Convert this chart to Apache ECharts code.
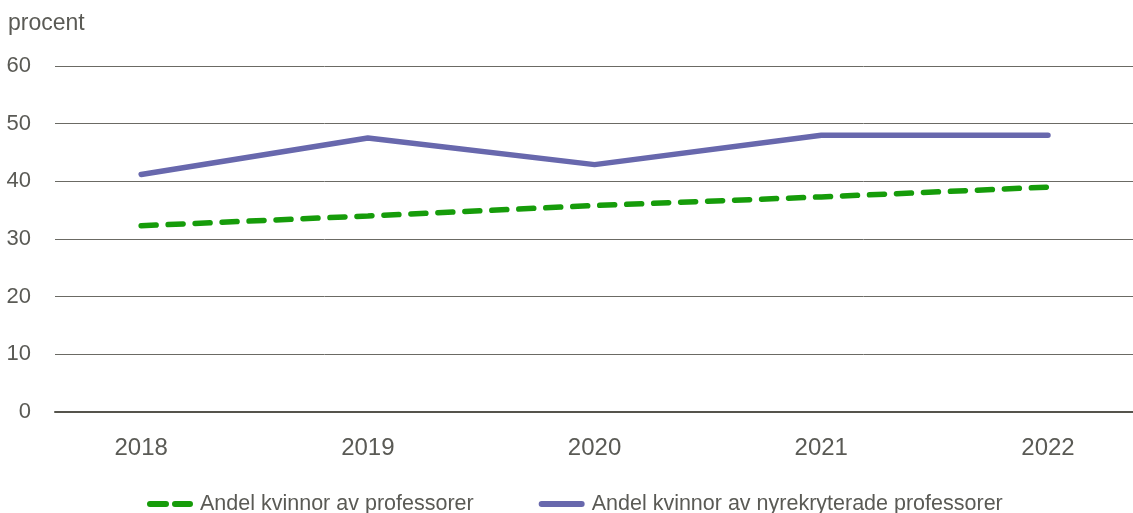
<!DOCTYPE html>
<html>
<head>
<meta charset="utf-8">
<script src="https://cdn.jsdelivr.net/npm/echarts@6/dist/echarts.min.js"></script>
<style>
* { margin: 0; padding: 0; }
body { background: #fff; }
#chart { width: 1133px; height: 513px; }
</style>
</head>
<body>
<div id="chart"></div>
<script>
// data
var years = [2018, 2019, 2020, 2021, 2022]
var andelProfessorer = [32.3, 34.0, 35.8, 37.3, 39.0]
var andelNyrekryterade = [41.2, 47.5, 42.9, 48.0, 48.0]
var yTicks = [0, 10, 20, 30, 40, 50, 60]

var textColor = '#5a5a55'
var font = 'Liberation Sans'

// legend icons: two rounded dashes / one rounded bar
var dashIcon = 'path://M3,0H19A3,3 0 0 1 19,6H3A3,3 0 0 1 3,0ZM28,0H43A3,3 0 0 1 43,6H28A3,3 0 0 1 28,0Z'
var barIcon = 'path://M3,0H43A3,3 0 0 1 43,6H3A3,3 0 0 1 3,0Z'

function pairs(vals) {
    return years.map(function (y, i) { return [y, vals[i]] })
}

var chart = echarts.init(document.getElementById('chart'))
chart.setOption({
    animation: false,
    title: {
        text: 'procent',
        left: 3,
        top: 7,
        textStyle: { color: textColor, fontSize: 23, fontWeight: 'normal', fontFamily: font }
    },
    grid: { left: 55, right: 0, top: 66, bottom: 101, containLabel: false },
    legend: {
        top: 488,
        left: 142,
        itemWidth: 46,
        itemHeight: 6,
        itemGap: 65,
        textStyle: { color: textColor, fontSize: 21.5, fontFamily: font, padding: [0, 0, 0, 2] },
        data: [
            { name: 'Andel kvinnor av professorer', icon: dashIcon },
            { name: 'Andel kvinnor av nyrekryterade professorer', icon: barIcon }
        ]
    },
    xAxis: {
        type: 'value',
        min: 2017.62,
        max: 2022.375,
        splitLine: { show: false },
        axisTick: { show: false },
        axisLine: { show: true, lineStyle: { color: '#55544c', width: 2 } },
        axisLabel: {
            customValues: years,
            margin: 24,
            color: textColor,
            fontSize: 24,
            fontFamily: font,
            formatter: function (v) { return String(v) }
        }
    },
    yAxis: {
        type: 'value',
        min: yTicks[0],
        max: yTicks[yTicks.length - 1],
        interval: 10,
        axisLine: { show: false },
        axisTick: { show: false },
        axisLabel: { margin: 24, color: textColor, fontSize: 22, fontFamily: font },
        splitLine: { lineStyle: { color: '#6b6a64', width: 1 } }
    },
    series: [
        {
            name: 'Andel kvinnor av professorer',
            type: 'line',
            symbol: 'none',
            data: pairs(andelProfessorer),
            itemStyle: { color: '#169c0a' },
            lineStyle: { color: '#169c0a', width: 5.5, type: [15, 12], cap: 'round' }
        },
        {
            name: 'Andel kvinnor av nyrekryterade professorer',
            type: 'line',
            symbol: 'none',
            data: pairs(andelNyrekryterade),
            itemStyle: { color: '#6868ad' },
            lineStyle: { color: '#6868ad', width: 5.5, cap: 'round', join: 'round' }
        }
    ]
})
</script>
</body>
</html>
